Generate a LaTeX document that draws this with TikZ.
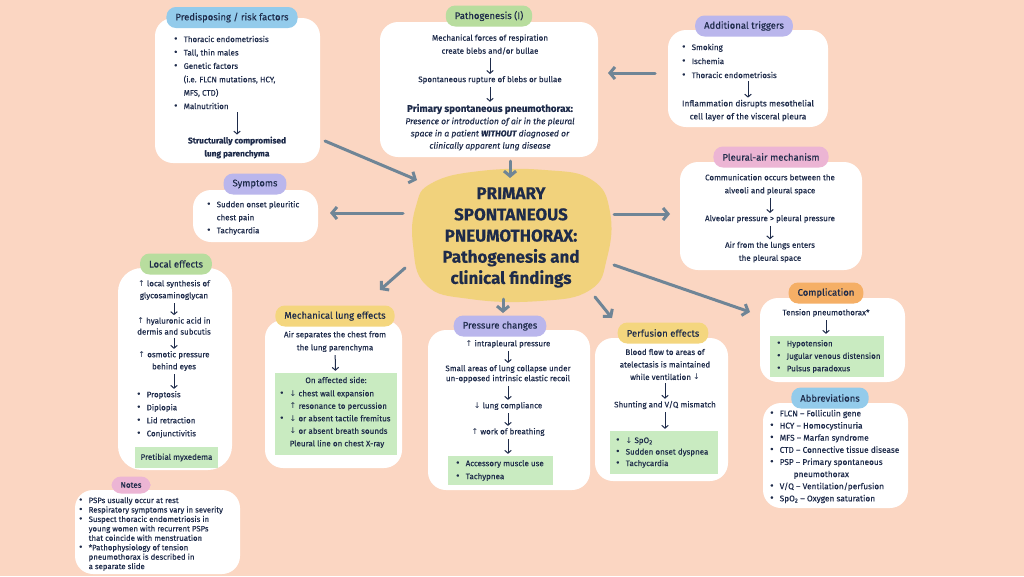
\documentclass[tikz,border=0pt]{standalone}
\usepackage{fontspec}
\setmainfont{Fira Sans}[FakeBold=0.2]
\newfontfamily\djv{DejaVu Sans}
\usetikzlibrary{arrows.meta}
\definecolor{bg}{RGB}{251,214,194}
\definecolor{ink}{RGB}{30,43,74}
\definecolor{arr}{RGB}{111,133,150}
\definecolor{gboxc}{RGB}{201,235,193}
\definecolor{pgreen}{RGB}{184,221,158}
\definecolor{ppurple}{RGB}{186,182,236}
\definecolor{pblue}{RGB}{147,203,235}
\definecolor{pyellow}{RGB}{244,214,126}
\definecolor{ppink}{RGB}{236,181,212}
\definecolor{porange}{RGB}{245,175,102}
\definecolor{blobc}{RGB}{241,210,124}
\newcommand\upa{{\djv\char"2191}}
\newcommand\dna{{\djv\char"2193}}
\newcommand\bl{\makebox[9.5pt][l]{\raisebox{0.2pt}{\scalebox{1.25}{\textbullet}}}}
\newcommand\ind{\hspace*{9.5pt}}
\begin{document}
\begin{tikzpicture}[x=1pt,y=-1pt,
  wbox/.style={fill=white, rounded corners=18pt, inner sep=0},
  pill/.style={rounded corners=9.5pt, minimum height=21pt, inner xsep=9pt, inner ysep=0, font=\fontsize{9.5}{11}\selectfont, text=ink},
  gb/.style={fill=gboxc, inner sep=0},
  txt/.style={font=\fontsize{8}{13}\selectfont, text=ink, align=center, inner sep=0},
  lst/.style={txt, align=left, anchor=west},
  sarr/.style={draw=ink, line width=1pt, -{Straight Barb[length=2.8pt,width=6.5pt]}, shorten <=3pt, shorten >=2pt},
  big/.style={draw=arr, line width=3pt, line cap=round, -{Straight Barb[length=5pt,width=12pt]}}]
\useasboundingbox (0,0) rectangle (1024,576);
\fill[bg] (0,0) rectangle (1024,576);

% ---------- white boxes ----------
\node[wbox, minimum width=165pt, minimum height=145pt] (pred) at (237.5,90.5) {};
\node[wbox, minimum width=218pt, minimum height=135pt] (path) at (489,89.5) {};
\node[wbox, minimum width=160pt, minimum height=97pt] (trig) at (748,78.5) {};
\node[wbox, minimum width=125pt, minimum height=52pt] (symp) at (255.5,216) {};
\node[wbox, minimum width=182pt, minimum height=108pt] (pleu) at (771,216) {};
\node[wbox, rounded corners=24pt, minimum width=114pt, minimum height=202pt] (loc) at (175,369) {};
\node[wbox, minimum width=137pt, minimum height=148pt] (mech) at (333.5,394) {};
\node[wbox, minimum width=162pt, minimum height=160pt] (pres) at (509,410) {};
\node[wbox, minimum width=133pt, minimum height=143pt] (perf) at (661.5,409.5) {};
\node[wbox, minimum width=145pt, minimum height=84pt] (comp) at (832.5,340) {};
\node[wbox, minimum width=145pt, minimum height=105pt] (abbr) at (835.5,455.5) {};
\node[wbox, minimum width=165pt, minimum height=84pt] (note) at (157.5,532) {};

% ---------- central blob ----------
\fill[blobc] plot[smooth cycle, tension=0.75] coordinates {(432,183) (480,171) (545,170) (592,180) (610,212) (607,258) (590,290) (540,301) (470,299) (426,285) (413,245) (416,206)};
\node[font=\bfseries\fontsize{17}{21.2}\selectfont, align=center, text=ink, inner sep=0] (title) at (511,237.5) {PRIMARY\\SPONTANEOUS\\PNEUMOTHORAX:\\Pathogenesis and\\clinical findings};

% ---------- pills ----------
\node[pill, fill=pblue] (predL) at (232,17.5) {Predisposing / risk factors};
\node[pill, fill=pgreen] (pathL) at (489,16) {Pathogenesis (I)};
\node[pill, fill=ppurple] (trigL) at (744,26) {Additional triggers};
\node[pill, fill=ppurple] (sympL) at (255,184) {Symptoms};
\node[pill, fill=ppink] (pleuL) at (771,157) {Pleural-air mechanism};
\node[pill, fill=pgreen] (locL) at (176,264) {Local effects};
\node[pill, fill=pyellow] (mechL) at (335,316) {Mechanical lung effects};
\node[pill, fill=ppurple] (presL) at (500,326) {Pressure changes};
\node[pill, fill=pyellow] (perfL) at (663,333) {Perfusion effects};
\node[pill, fill=porange] (compL) at (826,293) {Complication};
\node[pill, fill=pblue] (abbrL) at (830,398) {Abbreviations};
\node[pill, fill=ppink, minimum height=17pt, font=\fontsize{8}{9}\selectfont] (noteL) at (131,485) {Notes};

% ---------- Predisposing ----------
\node[lst, font=\fontsize{8}{13.4}\selectfont] (pr1) at (174,72.5) {\bl Thoracic endometriosis\\\bl Tall, thin males\\\bl Genetic factors\\\ind (i.e. FLCN mutations, HCY,\\\ind MFS, CTD)\\\bl Malnutrition};
\node[txt, font=\bfseries\fontsize{8.3}{13}\selectfont] (pr2) at (237,147.5) {Structurally compromised\\lung parenchyma};
\draw[sarr] (pr2.north |- pr1.south) -- (pr2.north);

% ---------- Pathogenesis ----------
\node[txt] (p1) at (490,44.5) {Mechanical forces of respiration\\create blebs and/or bullae};
\node[txt] (p2) at (490,80) {Spontaneous rupture of blebs or bullae};
\node[txt, font=\bfseries\fontsize{9.8}{12}\selectfont] (p3) at (490,109) {Primary spontaneous pneumothorax:};
\node[txt, font=\itshape\fontsize{8.5}{12.2}\selectfont] (p4) at (490,134) {Presence or introduction of air in the pleural\\space in a patient \textbf{WITHOUT} diagnosed or\\clinically apparent lung disease};
\draw[sarr] (p1) -- (p2);
\draw[sarr] (p2) -- (p3);

% ---------- Additional triggers ----------
\node[lst, font=\fontsize{8}{14}\selectfont] (t1) at (682,61) {\bl Smoking\\\bl Ischemia\\\bl Thoracic endometriosis};
\node[txt, font=\fontsize{8.4}{13}\selectfont] (t2) at (748,110.5) {Inflammation disrupts mesothelial\\cell layer of the visceral pleura};
\draw[sarr] (t2.north |- t1.south) -- (t2.north);

% ---------- Symptoms ----------
\node[lst] (s1) at (207,218) {\bl Sudden onset pleuritic\\\ind chest pain\\\bl Tachycardia};

% ---------- Pleural-air ----------
\node[txt] (a1) at (770,184.5) {Communication occurs between the\\alveoli and pleural space};
\node[txt] (a2) at (770,219) {Alveolar pressure > pleural pressure};
\node[txt] (a3) at (770,252) {Air from the lungs enters\\the pleural space};
\draw[sarr] (a1) -- (a2);
\draw[sarr] (a2) -- (a3);

% ---------- Local effects ----------
\node[txt, font=\fontsize{8}{12}\selectfont] (l1) at (174,290) {\upa\ local synthesis of\\glycosaminoglycan};
\node[txt, font=\fontsize{8}{11}\selectfont] (l2) at (174,326) {\upa\ hyaluronic acid in\\dermis and subcutis};
\node[txt, font=\fontsize{8}{12}\selectfont] (l3) at (174,361) {\upa\ osmotic pressure\\behind eyes};
\node[lst] (l4) at (137,414.5) {\bl Proptosis\\\bl Diplopia\\\bl Lid retraction\\\bl Conjunctivitis};
\node[gb, minimum width=83pt, minimum height=21pt, txt, align=center, inner sep=0] (l5) at (176.5,457.5) {Pretibial myxedema};
\draw[sarr] (l1) -- (l2);
\draw[sarr] (l2) -- (l3);
\draw[sarr] (l3.south) -- (l3.south |- l4.north);

% ---------- Mechanical ----------
\node[txt] (m1) at (335,341.5) {Air separates the chest from\\the lung parenchyma};
\node[gb, minimum width=122pt, minimum height=82pt] (m2) at (336,414) {};
\node[txt] (m3) at (336,380) {On affected side:};
\node[lst, font=\fontsize{8}{12.5}\selectfont] (m4) at (280,419) {\bl\dna\ chest wall expansion\\\ind\upa\ resonance to percussion\\\bl\dna\ or absent tactile fremitus\\\ind\dna\ or absent breath sounds\\\ind Pleural line on chest X-ray};
\draw[sarr] (m1) -- (m2);

% ---------- Pressure ----------
\node[txt] (q1) at (508,344) {\upa\ intrapleural pressure};
\node[txt, font=\fontsize{8}{10}\selectfont] (q2) at (508,374) {Small areas of lung collapse under\\un-opposed intrinsic elastic recoil};
\node[txt] (q3) at (508,406) {\dna\ lung compliance};
\node[txt] (q4) at (508,432) {\upa\ work of breathing};
\node[gb, minimum width=105pt, minimum height=29pt] (q5) at (500.5,470.5) {};
\node[lst] (q6) at (456,470.5) {\bl Accessory muscle use\\\bl Tachypnea};
\draw[sarr] (q1) -- (q2);
\draw[sarr] (q2) -- (q3);
\draw[sarr] (q3) -- (q4);
\draw[sarr] (q4) -- (q4 |- q5.north);

% ---------- Perfusion ----------
\node[txt, font=\fontsize{8}{12.5}\selectfont] (f1) at (665,364.5) {Blood flow to areas of\\atelectasis is maintained\\while ventilation \dna};
\node[txt] (f2) at (665,405) {Shunting and V/Q mismatch};
\node[gb, minimum width=108pt, minimum height=43pt] (f3) at (664,452.5) {};
\node[lst, font=\fontsize{8}{11.5}\selectfont] (f4) at (616,452.5) {\bl\dna\ SpO\textsubscript{2}\\\bl Sudden onset dyspnea\\\bl Tachycardia};
\draw[sarr] (f1) -- (f2);
\draw[sarr] (f2) -- (f2 |- f3.north);

% ---------- Complication ----------
\node[txt] (c1) at (826,313) {Tension pneumothorax*};
\node[gb, minimum width=114pt, minimum height=41pt] (c2) at (827,356.5) {};
\node[lst, font=\fontsize{8}{12.5}\selectfont] (c3) at (777,356.5) {\bl Hypotension\\\bl Jugular venous distension\\\bl Pulsus paradoxus};
\draw[sarr] (c1) -- (c1 |- c2.north);

% ---------- Abbreviations ----------
\node[lst, font=\fontsize{8.3}{12.14}\selectfont] (ab) at (770,456.5) {\bl FLCN – Folliculin gene\\\bl HCY – Homocystinuria\\\bl MFS – Marfan syndrome\\\bl CTD – Connective tissue disease\\\bl PSP – Primary spontaneous\\\ind\hspace*{14pt}pneumothorax\\\bl V/Q – Ventilation/perfusion\\\bl SpO\textsubscript{2} – Oxygen saturation};

% ---------- Notes ----------
\node[lst, font=\fontsize{7.8}{9.43}\selectfont] (n1) at (79,534) {\bl PSPs usually occur at rest\\\bl Respiratory symptoms vary in severity\\\bl Suspect thoracic endometriosis in\\\ind young women with recurrent PSPs\\\ind that coincide with menstruation\\\bl *Pathophysiology of tension\\\ind pneumothorax is described in\\\ind a separate slide};

% ---------- big arrows ----------
\coordinate (e1) at (417,180);
\coordinate (e2) at (510,178);
\coordinate (e3) at (608,73);
\coordinate (e4s) at (403,213);
\coordinate (e5s) at (614,214);
\coordinate (e6s) at (405,268);
\coordinate (e7s) at (503,299);
\coordinate (e8s) at (595,297);
\coordinate (e9s) at (614,265);
\coordinate (s1e) at (330,213);
\coordinate (s5e) at (670,214);
\coordinate (s6e) at (380,290);
\coordinate (s7e) at (503,313);
\coordinate (s8e) at (612,318);
\coordinate (s9e) at (750,312);
\coordinate (b1s) at (325,141);
\coordinate (b2s) at (510,161);
\coordinate (b3s) at (655,73);
\draw[big] (b1s) -- (e1);
\draw[big] (b2s) -- (e2);
\draw[big] (b3s) -- (e3);
\draw[big] (e4s) -- (s1e);
\draw[big] (e5s) -- (s5e);
\draw[big] (e6s) -- (s6e);
\draw[big] (e7s) -- (s7e);
\draw[big] (e8s) -- (s8e);
\draw[big] (e9s) -- (s9e);
\end{tikzpicture}
\end{document}
